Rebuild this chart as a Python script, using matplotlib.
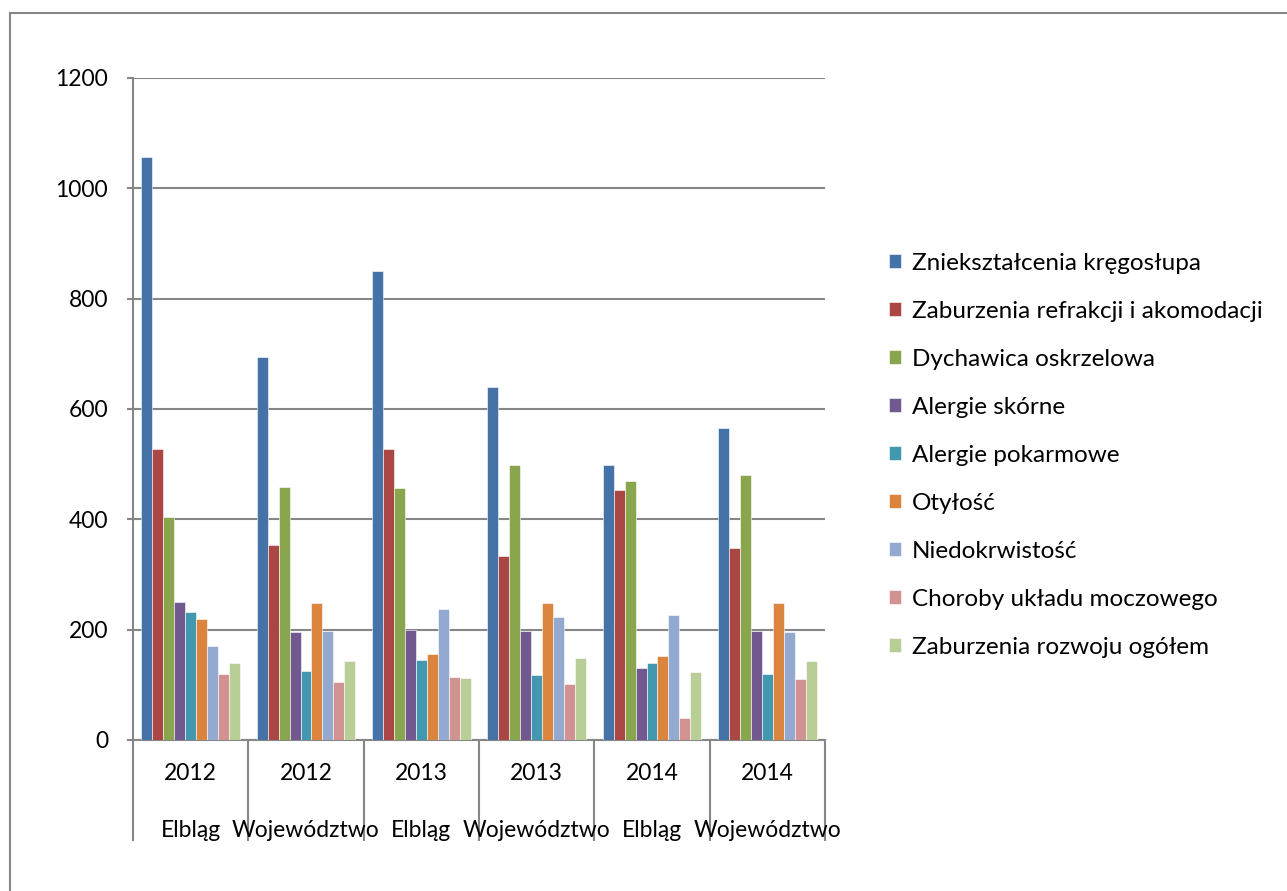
import matplotlib
matplotlib.use("Agg")
import matplotlib.pyplot as plt
from matplotlib.lines import Line2D
import numpy as np

years = ["2012", "2012", "2013", "2013", "2014", "2014"]
places = ["Elbląg", "Województwo", "Elbląg", "Województwo", "Elbląg", "Województwo"]

series_names = [
    "Zniekształcenia kręgosłupa",
    "Zaburzenia refrakcji i akomodacji",
    "Dychawica oskrzelowa",
    "Alergie skórne",
    "Alergie pokarmowe",
    "Otyłość",
    "Niedokrwistość",
    "Choroby układu moczowego",
    "Zaburzenia rozwoju ogółem",
]

zniekszt = [1057, 695, 851, 640, 499, 565]
refrakcja = [528, 353, 527, 334, 454, 348]
dychawica = [404, 458, 457, 499, 470, 480]
alergie_sk = [250, 195, 199, 198, 130, 197]
alergie_pok = [232, 125, 145, 117, 139, 119]
otylosc = [220, 249, 156, 249, 152, 248]
niedokrw = [171, 197, 238, 223, 226, 196]
moczowe = [120, 105, 115, 101, 39, 111]
rozwoj = [139, 143, 112, 149, 124, 143]

series_values = [zniekszt, refrakcja, dychawica, alergie_sk, alergie_pok,
                 otylosc, niedokrw, moczowe, rozwoj]

colors = ["#4572A7", "#AA4643", "#89A54E", "#71588F", "#4198AF",
          "#DB843D", "#93A9CF", "#D19392", "#B9CD96"]

plt.rcParams['font.family'] = ['Lato', 'DejaVu Sans']
grid_gray = "#868686"
fs = 16.5

fig = plt.figure(figsize=(12.87, 8.91), dpi=100)
ax = fig.add_axes([133 / 1287, 1 - 740 / 891, 692 / 1287, 662 / 891])

n = len(series_values)
w = 1 / (n + 1.5)
x = np.arange(len(years)) + 0.5
for i, (name, vals) in enumerate(zip(series_names, series_values)):
    ax.bar(x + (i - (n - 1) / 2) * w, vals, width=w, color=colors[i],
           edgecolor="white", linewidth=0.4, label=name, zorder=3)

ax.set_xlim(0, len(years))
ax.set_ylim(0, 1200)
ax.set_yticks(range(0, 1201, 200))
ax.yaxis.grid(True, color=grid_gray, linewidth=1.5, zorder=0)
ax.tick_params(axis="y", length=4, width=1.5, color=grid_gray, pad=14, labelsize=fs)
ax.set_xticks(range(len(years) + 1))
ax.set_xticklabels([])
ax.tick_params(axis="x", length=73, width=1.5, color=grid_gray, direction="out")
for s in ["top", "right"]:
    ax.spines[s].set_visible(False)
for s in ["left", "bottom"]:
    ax.spines[s].set_color(grid_gray)
    ax.spines[s].set_linewidth(1.5)

tr = ax.get_xaxis_transform()
for xi, yr, pl in zip(x, years, places):
    ax.text(xi, -0.05, yr, transform=tr, ha="center", va="center", fontsize=fs)
    ax.text(xi, -0.136, pl, transform=tr, ha="center", va="center", fontsize=fs)

ax.legend(loc="upper left", bbox_to_anchor=(889 / 1287, 1 - 253 / 891),
          bbox_transform=fig.transFigure, frameon=False, fontsize=17.5,
          handlelength=0.5, handleheight=0.5, handletextpad=0.45,
          labelspacing=1.11, borderpad=0, borderaxespad=0)

# outer chart frame
fig.add_artist(Line2D([10 / 1287, 10 / 1287], [0, 1 - 13 / 891], color=grid_gray, linewidth=1.5))
fig.add_artist(Line2D([10 / 1287, 1], [1 - 13 / 891, 1 - 13 / 891], color=grid_gray, linewidth=1.5))

fig.savefig("out.png", dpi=100)
